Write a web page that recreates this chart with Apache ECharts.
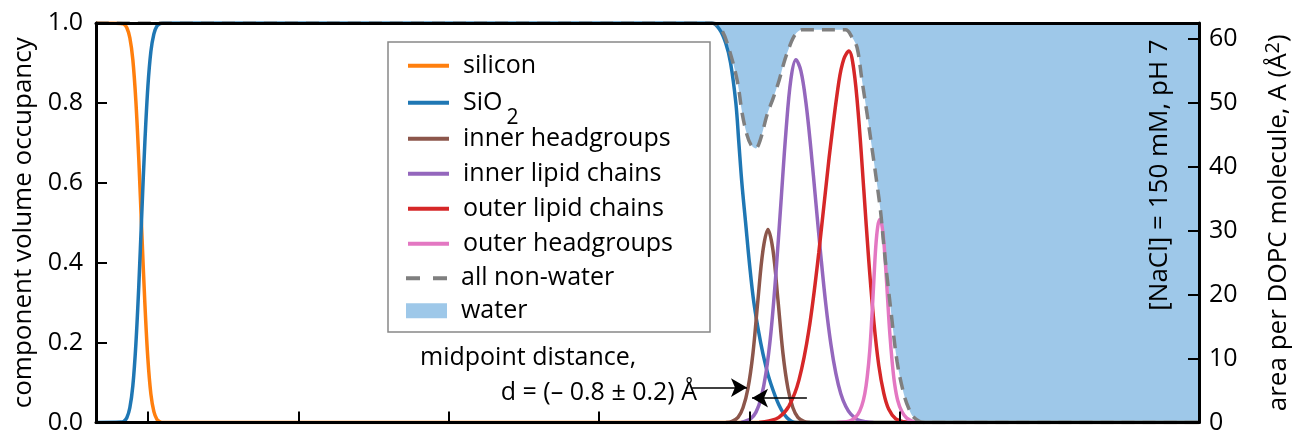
<!DOCTYPE html>
<html><head><meta charset="utf-8">
<script src="https://cdn.jsdelivr.net/npm/echarts@6/dist/echarts.min.js"></script>
<style>html,body{margin:0;padding:0;background:#fff}#c{width:1300px;height:435px}</style>
</head><body><div id="c"></div>
<script>
// ---- data (x in Å) ----
const xTicks = [0, 20, 40, 60, 80, 100];
const rightTicks = [0, 10, 20, 30, 40, 50, 60];

const silicon = [[-6.9,1],[-3.6,0.999],[-3.2,0.997],[-2.8,0.988],[-2.4,0.963],[-2.0,0.908],[-1.6,0.805],[-1.2,0.655],[-0.8,0.472],[-0.4,0.298],[0,0.159],[0.4,0.071],[0.8,0.027],[1.2,0.008],[1.6,0.002],[2.0,0],[139.8,0]];

const sio2 = [[-6.9,0],[-3.6,0.001],[-3.2,0.003],[-2.8,0.012],[-2.4,0.037],[-2.0,0.092],[-1.6,0.195],[-1.2,0.345],[-0.8,0.528],[-0.4,0.702],[0,0.841],[0.4,0.929],[0.8,0.973],[1.2,0.992],[1.6,0.998],[2.0,1],[75.0,1],[76.0,0.985],[76.85,0.95],[77.5,0.9],[78.2,0.8],[78.6,0.7],[79.0,0.6],[79.5,0.5],[80.0,0.4],[80.6,0.3],[81.5,0.2],[82.2,0.14],[82.8,0.1],[83.9,0.045],[85.0,0.012],[86.2,0],[139.8,0]];

const innerHead = [[76.89,0],[77.69,0.003],[78.49,0.013],[79.15,0.037],[79.81,0.085],[80.48,0.174],[81.14,0.307],[81.81,0.431],[82.47,0.483],[83.14,0.431],[83.80,0.307],[84.46,0.174],[85.13,0.085],[85.79,0.037],[86.45,0.013],[87.25,0.003],[88.05,0]];

const innerChains = [[78.9,0],[79.55,0.004],[80.21,0.010],[80.88,0.026],[81.54,0.060],[82.20,0.123],[82.87,0.226],[83.53,0.373],[84.20,0.551],[84.86,0.727],[85.52,0.859],[86.19,0.908],[86.85,0.880],[87.52,0.801],[88.18,0.685],[88.84,0.551],[89.51,0.416],[90.17,0.295],[90.84,0.196],[91.50,0.123],[92.16,0.072],[92.83,0.040],[93.49,0.021],[94.42,0.007],[95.48,0.002],[96.5,0]];

const outerChains = [[81.3,0],[82.60,0.004],[83.93,0.013],[85.26,0.041],[86.59,0.106],[87.92,0.232],[89.24,0.426],[90.57,0.657],[91.90,0.853],[92.56,0.91],[93.23,0.93],[93.89,0.883],[94.56,0.755],[95.22,0.582],[95.88,0.405],[96.55,0.253],[97.21,0.143],[97.88,0.073],[98.54,0.033],[99.47,0.009],[100.53,0.002],[101.5,0]];

const outerHead = [[91.63,0],[92.56,0.001],[93.62,0.006],[94.42,0.02],[94.95,0.042],[95.35,0.072],[95.68,0.115],[96.01,0.18],[96.28,0.26],[96.54,0.35],[96.81,0.44],[97.07,0.49],[97.34,0.508],[97.61,0.495],[97.87,0.455],[98.14,0.385],[98.40,0.305],[98.67,0.225],[99.00,0.15],[99.33,0.095],[99.73,0.055],[100.26,0.028],[100.93,0.011],[101.72,0.003],[102.25,0]];

const nonWater = [[-6.9,1],[75.03,1],[76.23,0.985],[77.29,0.935],[78.39,0.855],[79.06,0.772],[79.68,0.72],[80.21,0.695],[80.84,0.686],[81.41,0.705],[82.38,0.772],[83.13,0.81],[83.93,0.855],[84.59,0.9],[85.26,0.937],[86.06,0.97],[86.99,0.983],[92.79,0.983],[93.63,0.965],[94.33,0.938],[94.95,0.86],[95.66,0.772],[96.28,0.69],[96.90,0.607],[97.44,0.53],[97.88,0.443],[98.34,0.36],[98.84,0.277],[99.64,0.153],[100.53,0.072],[101.20,0.035],[101.86,0.013],[103.19,0],[139.8,0]];

const arrowRight = [[72.38,0.0874],[79.68,0.0874]];
const arrowLeft = [[87.65,0.0611],[80.35,0.0611]];

// ---- chart ----
const FONT = '"Open Sans", "Noto Sans", sans-serif';
const FS = 25;      // horizontal text size
const FSR = 26;     // rotated text size
const LW = 3.5;
const C = {silicon:'#ff7f0e', sio2:'#1f77b4', ih:'#8c564b', ic:'#9467bd', oc:'#d62728', oh:'#e377c2', nw:'#7f7f7f', water:'#9ec8e9'};
const SM = 0.35;
function ln(name, data, color){
  return {type:'line', name, data, symbol:'none', smooth:SM, lineStyle:{width:LW, color}, itemStyle:{color}, z:3, animation:false};
}
const chart = echarts.init(document.getElementById('c'), null, {renderer:'canvas'});
const axisLineStyle = {show:true, onZero:false, lineStyle:{color:'#000', width:3}};
const tickStyle = {show:true, inside:true, length:11, lineStyle:{color:'#000', width:2}};
const legendText = {fontSize:FS, fontFamily:FONT, color:'#000', lineHeight:28, padding:[0,0,0,9],
  rich:{sub:{fontSize:21, fontFamily:FONT, color:'#000', lineHeight:28, padding:[30,0,0,4]}}};
const legendBase = {orient:'vertical', left:406, padding:0, itemWidth:41, itemHeight:15, selectedMode:false,
  itemStyle:{opacity:0}, lineStyle:{width:4}, textStyle:legendText, formatter: n => n === 'SiO2' ? 'SiO{sub|2}' : n};
const dashIcon = 'path://M0,0H14V4H0Z M27,0H41V4H27Z';
chart.setOption({
  animation:false,
  textStyle:{fontFamily:FONT},
  grid:{left:96, right:99, top:23, bottom:8},
  xAxis:[
    {type:'value', position:'bottom', min:-6.9, max:139.8, z:10, axisLine:axisLineStyle,
      axisTick:Object.assign({customValues:xTicks}, tickStyle),
      axisLabel:{show:false, customValues:xTicks}, splitLine:{show:false}},
    {type:'value', position:'top', min:-6.9, max:139.8, z:10, axisLine:axisLineStyle,
      axisTick:{show:false}, axisLabel:{show:false}, splitLine:{show:false}}
  ],
  yAxis:[
    {type:'value', position:'left', min:0, max:1, interval:0.2, z:10, axisLine:axisLineStyle,
      axisTick:tickStyle, splitLine:{show:false},
      axisLabel:{fontSize:FS, color:'#000', fontFamily:FONT, margin:13, formatter:v=>v.toFixed(1)},
      name:'component volume occupancy', nameLocation:'middle', nameRotate:90, nameGap:57,
      nameTextStyle:{fontSize:FSR, color:'#000', fontFamily:FONT}},
    {type:'value', position:'right', min:0, max:62.5, z:10, axisLine:axisLineStyle,
      axisTick:Object.assign({customValues:rightTicks}, tickStyle), splitLine:{show:false},
      axisLabel:{fontSize:FS, color:'#000', fontFamily:FONT, margin:10, customValues:rightTicks},
      name:'area per DOPC molecule, A (Å{sup|2})', nameLocation:'middle', nameRotate:90, nameGap:64,
      nameTextStyle:{fontSize:FSR, color:'#000', fontFamily:FONT,
        rich:{sup:{fontSize:20, fontFamily:FONT, color:'#000', padding:[0,0,12,0]}}}}
  ],
  legend:[
    Object.assign({top:51.7, data:[{name:'silicon'}]}, legendBase),
    Object.assign({top:77.3, data:[{name:'SiO2'}]}, legendBase),
    Object.assign({top:124.8, itemGap:7, data:[
      {name:'inner headgroups'},{name:'inner lipid chains'},
      {name:'outer lipid chains'},{name:'outer headgroups'}
    ]}, legendBase),
    Object.assign({}, legendBase, {top:264.3, itemGap:4.4,
      data:[{name:'all non-water', icon:dashIcon, itemStyle:{color:C.nw, opacity:1}},
            {name:'water', icon:'rect', itemStyle:{color:C.water, opacity:1}}]})
  ],
  graphic:[
    {type:'rect', z:1, shape:{x:388, y:42, width:322, height:290}, style:{fill:'#fff', stroke:'#888', lineWidth:1.5}},
    {type:'text', z:5, x:420, y:358, style:{text:'midpoint distance,', font:FS+'px '+FONT, fill:'#000', align:'left', verticalAlign:'middle'}},
    {type:'text', z:5, x:697, y:393, style:{text:'d = (– 0.8 ± 0.2) Å', font:FS+'px '+FONT, fill:'#000', align:'right', verticalAlign:'middle'}},
    {type:'text', z:5, x:1160, y:175, rotation:Math.PI/2, style:{text:'[NaCl] = 150 mM, pH 7', font:FSR+'px '+FONT, fill:'#000', align:'center', verticalAlign:'middle'}}
  ],
  series:[
    {type:'line', name:'water', data:nonWater, symbol:'none', smooth:SM, lineStyle:{width:0, opacity:0},
      itemStyle:{color:C.water}, areaStyle:{origin:'end', color:C.water, opacity:1}, z:2, animation:false},
    ln('silicon', silicon, C.silicon),
    ln('SiO2', sio2, C.sio2),
    ln('inner headgroups', innerHead, C.ih),
    ln('inner lipid chains', innerChains, C.ic),
    ln('outer lipid chains', outerChains, C.oc),
    ln('outer headgroups', outerHead, C.oh),
    {type:'line', name:'all non-water', data:nonWater, symbol:'none', smooth:SM,
      lineStyle:{width:LW, color:C.nw, type:[13,8]}, itemStyle:{color:C.nw}, z:4, animation:false,
      markLine:{silent:true, symbol:['none','arrow'], symbolSize:[14,16], animation:false,
        label:{show:false}, lineStyle:{color:'#000', width:1.6, type:'solid'},
        data:[[{coord:arrowRight[0]},{coord:arrowRight[1]}],[{coord:arrowLeft[0]},{coord:arrowLeft[1]}]]}}
  ]
});
</script></body></html>
